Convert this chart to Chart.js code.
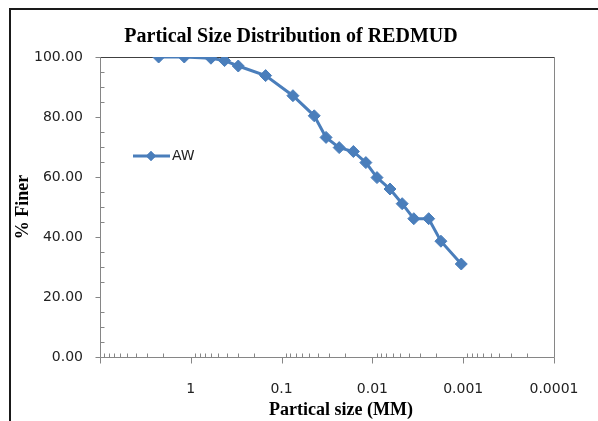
<!DOCTYPE html>
<html>
<head>
<meta charset="utf-8">
<script src="https://cdn.jsdelivr.net/npm/chart.js@4.4.1/dist/chart.umd.min.js"></script>
<style>
  html, body { margin: 0; padding: 0; background: #fff; overflow: hidden; }
  canvas { display: block; }
</style>
</head>
<body>
<canvas id="chart" width="598" height="421"></canvas>
<script>
// particle size (mm) vs percent finer
const sizes = [2.26, 1.18, 0.6, 0.425, 0.3, 0.15, 0.075, 0.0437, 0.0324, 0.0232, 0.0162, 0.0118, 0.0089, 0.0064, 0.0047, 0.0035, 0.0024, 0.00176, 0.00105];
const finer = [100, 100, 99.6, 98.8, 97.0, 93.8, 87.1, 80.4, 73.2, 69.8, 68.5, 64.8, 59.8, 56.0, 51.1, 46.1, 46.1, 38.6, 31.0];
const xTickValues = [10, 1, 0.1, 0.01, 0.001, 0.0001];
const xTickLabels = ['', '1', '0.1', '0.01', '0.001', '0.0001'];
const yTickValues = [0, 20, 40, 60, 80, 100];
const xTitle = 'Partical size (MM)';

const blue = '#4A7EBB';
const tickFont = { family: '"DejaVu Sans", Arial, sans-serif', size: 14 };
const titleFont = { family: '"Liberation Serif", "Times New Roman", serif', weight: 'bold' };

// outer frame, plot border and excel-like tick marks
const frameAndTicks = {
  id: 'frameAndTicks',
  beforeDatasetsDraw(chart) {
    const { ctx, chartArea: a, scales: { x, y } } = chart;
    ctx.save();

    ctx.strokeStyle = '#1a1a1a';
    ctx.lineWidth = 2;
    ctx.beginPath();
    ctx.moveTo(10, 421);
    ctx.lineTo(10, 9);
    ctx.lineTo(600, 9);
    ctx.stroke();

    ctx.lineWidth = 1;
    ctx.strokeStyle = '#868686';
    const L = Math.round(a.left) + 0.5, R = Math.round(a.right) + 0.5;
    const T = Math.round(a.top) + 0.5, B = Math.round(a.bottom) + 0.5;
    ctx.beginPath();
    ctx.moveTo(L, B); ctx.lineTo(R, B); ctx.lineTo(R, T);
    ctx.moveTo(L, B); ctx.lineTo(L, T);
    ctx.stroke();
    ctx.strokeStyle = '#404040';
    ctx.beginPath();
    ctx.moveTo(L, T); ctx.lineTo(R, T);
    ctx.stroke();

    ctx.strokeStyle = '#868686';
    ctx.beginPath();
    // x minor ticks (inside) and major ticks (outside)
    for (let d = 0.0001; d < 10; d *= 10) {
      for (let m = 2; m <= 9; m++) {
        const px = Math.round(x.getPixelForValue(m * d)) + 0.5;
        ctx.moveTo(px, B); ctx.lineTo(px, B - 4);
      }
    }
    xTickValues.forEach(v => {
      const px = Math.round(x.getPixelForValue(v)) + 0.5;
      ctx.moveTo(px, B); ctx.lineTo(px, B + 6);
    });
    // y minor / major ticks
    for (let v = 5; v < 100; v += 5) {
      if (v % 20 === 0) continue;
      const py = Math.round(y.getPixelForValue(v)) + 0.5;
      ctx.moveTo(L, py); ctx.lineTo(L + 4, py);
    }
    yTickValues.forEach(v => {
      const py = Math.round(y.getPixelForValue(v)) + 0.5;
      ctx.moveTo(L - 5, py); ctx.lineTo(L, py);
    });
    ctx.stroke();

    // x axis title, sits a bit right of the plot centre in the original
    ctx.fillStyle = '#000';
    ctx.font = 'bold 18px "Liberation Serif", "Times New Roman", serif';
    ctx.textAlign = 'center';
    ctx.textBaseline = 'middle';
    ctx.fillText(xTitle, (a.left + a.right) / 2 + 14, 410);
    ctx.restore();
  }
};

// legend sits inside the plot area
const innerLegend = {
  id: 'innerLegend',
  afterDatasetsDraw(chart) {
    const { ctx, chartArea: a } = chart;
    const ds = chart.data.datasets[0];
    const lx = a.left + 33, ly = a.top + 99;
    ctx.save();
    ctx.strokeStyle = ds.borderColor;
    ctx.lineWidth = 3;
    ctx.beginPath();
    ctx.moveTo(lx, ly); ctx.lineTo(lx + 37, ly);
    ctx.stroke();
    ctx.fillStyle = ds.borderColor;
    Chart.helpers.drawPoint(ctx, { pointStyle: 'rectRot', radius: 5, borderWidth: 0 }, lx + 18, ly);
    ctx.fill();
    ctx.fillStyle = '#222';
    ctx.font = '14px "DejaVu Sans", Arial, sans-serif';
    ctx.textBaseline = 'middle';
    ctx.fillText(ds.label, lx + 39, ly);
    ctx.restore();
  }
};

new Chart(document.getElementById('chart'), {
  type: 'scatter',
  data: {
    datasets: [{
      label: 'AW',
      data: sizes.map((s, i) => ({ x: s, y: finer[i] })),
      showLine: true,
      borderColor: blue,
      backgroundColor: blue,
      borderWidth: 3,
      pointStyle: 'rectRot',
      pointRadius: 6,
      pointBorderWidth: 1,
      pointBorderColor: blue,
      pointBackgroundColor: blue
    }]
  },
  options: {
    responsive: false,
    animation: false,
    layout: { padding: { left: 0, right: 16, top: 0, bottom: 0 } },
    plugins: {
      legend: { display: false },
      tooltip: { enabled: false },
      title: {
        display: true,
        text: 'Partical Size Distribution of REDMUD',
        color: '#000',
        font: { ...titleFont, size: 20 },
        padding: { top: 25, bottom: 8 }
      }
    },
    scales: {
      x: {
        type: 'logarithmic',
        reverse: true,
        min: 0.0001,
        max: 10,
        grid: { display: false, drawTicks: false },
        border: { display: false },
        afterBuildTicks: s => { s.ticks = xTickValues.map(v => ({ value: v })); },
        afterFit: s => { s.height = 64; s.paddingRight = 44; },
        ticks: {
          autoSkip: false,
          maxRotation: 0,
          padding: 24,
          color: '#222',
          font: tickFont,
          callback: (v, i) => xTickLabels[i]
        }
      },
      y: {
        min: 0,
        max: 100,
        grid: { display: false, drawTicks: false },
        border: { display: false },
        afterBuildTicks: s => { s.ticks = yTickValues.map(v => ({ value: v })); },
        afterFit: s => { s.width = 100; },
        ticks: {
          padding: 17,
          color: '#222',
          font: tickFont,
          callback: v => v.toFixed(2)
        },
        title: {
          display: true,
          text: '% Finer',
          color: '#000',
          font: { ...titleFont, size: 18 },
          padding: { top: 13, bottom: 0 }
        }
      },
      // empty right-hand strip so the title centres where the original has it
      yRight: {
        position: 'right',
        display: true,
        min: 0,
        max: 100,
        grid: { display: false },
        border: { display: false },
        ticks: { display: false },
        afterFit: s => { s.width = 28; }
      }
    }
  },
  plugins: [frameAndTicks, innerLegend]
});
</script>
</body>
</html>
